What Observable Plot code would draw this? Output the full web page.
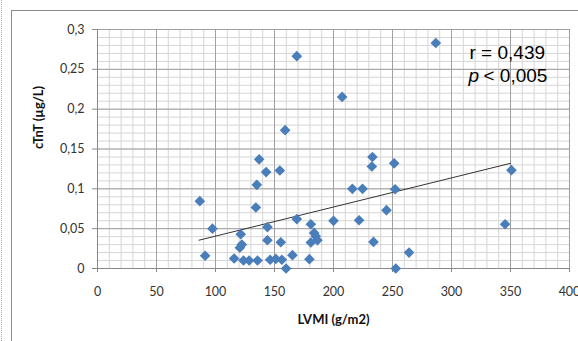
<!DOCTYPE html>
<html><head><meta charset="utf-8">
<script src="https://cdn.jsdelivr.net/npm/d3@7"></script>
<script src="https://cdn.jsdelivr.net/npm/@observablehq/plot@0.6"></script>
<style>
html,body{margin:0;padding:0;background:#fff;}
#wrap{position:relative;width:578px;height:341px;overflow:hidden;background:#fff;}
#chart{position:absolute;left:0;top:0;}
#frame{position:absolute;left:11px;top:10px;width:620px;height:400px;border:1.5px solid #8c8c8c;box-sizing:border-box;pointer-events:none;}
#dots{position:absolute;left:1px;top:0;height:341px;border-left:1px dotted #aaa;}
</style></head><body>
<div id="wrap"><div id="chart"></div><div id="frame"></div><div id="dots"></div></div>
<script>
// LVMI (g/m2) and cTnT (µg/L) per patient
const lvmi = [86.7, 97.4, 91.2, 121.4, 122.3, 120.6, 115.8, 123.7, 128.5, 135.6,
  134.2, 135, 142.9, 137, 154.5, 144, 144, 146.3, 151.1, 156.2,
  155.3, 159.8, 165.2, 168.9, 180.8, 183.6, 185, 186.4, 180.8, 179.6,
  200, 216, 224.6, 221.7, 233.9, 232.5, 233, 159, 168.9, 207.3,
  286.7, 251.4, 252.2, 244.9, 264, 252.8, 345.4, 350.8];
const ctnt = [0.0845, 0.050, 0.016, 0.043, 0.030, 0.026, 0.0125, 0.010, 0.010, 0.010,
  0.0766, 0.105, 0.121, 0.137, 0.123, 0.052, 0.0355, 0.011, 0.012, 0.011,
  0.033, 0.0, 0.0167, 0.062, 0.0556, 0.0447, 0.0405, 0.0355, 0.0326, 0.0117,
  0.0598, 0.100, 0.100, 0.0606, 0.0334, 0.128, 0.140, 0.1736, 0.2665, 0.2154,
  0.283, 0.132, 0.0995, 0.0732, 0.020, 0.0, 0.0556, 0.1234];
// linear trend line end points
const trendX = [86, 350];
const trendY = [0.0355, 0.132];
// ticks
const xTicks = [0, 50, 100, 150, 200, 250, 300, 350, 400];
const yTicks = [0, 0.05, 0.1, 0.15, 0.2, 0.25, 0.3];
const xMinor = d3.range(0, 41).map(i => i * 10);
const yMinor = d3.range(0, 31).map(i => i / 100);
const xLabel = "LVMI (g/m2)";
const yLabel = "cTnT (µg/L)";
const statR = "r = 0,439";
const statP = "p";
const statPRest = "< 0,005";

const fmt = d => String(d).replace(".", ",");
const points = lvmi.map((x, i) => ({x, y: ctnt[i]}));
const trend = trendX.map((x, i) => ({x, y: trendY[i]}));

const chart = Plot.plot({
  width: 578, height: 341,
  marginLeft: 97, marginRight: 9, marginTop: 29, marginBottom: 73,
  x: {domain: [0, 400]},
  y: {domain: [0, 0.3]},
  style: {fontFamily: "Lato, sans-serif", fontSize: "12.5px", color: "#333", background: "transparent"},
  marks: [
    Plot.gridX(xMinor, {stroke: "#d6d6d6", strokeOpacity: 1, strokeWidth: 1}),
    Plot.gridY(yMinor, {stroke: "#d6d6d6", strokeOpacity: 1, strokeWidth: 1}),
    Plot.gridX(xTicks, {stroke: "#a0a0a0", strokeOpacity: 1, strokeWidth: 1}),
    Plot.gridY(yTicks, {stroke: "#a0a0a0", strokeOpacity: 1, strokeWidth: 1}),
    Plot.ruleY([0], {stroke: "#888"}),
    Plot.ruleX([0], {stroke: "#888"}),
    Plot.axisX(xTicks, {tickFormat: fmt, tickSize: 4, tickPadding: 15, stroke: "#888", label: null, fill: "#333"}),
    Plot.axisY(yTicks, {tickFormat: fmt, tickSize: 5, tickPadding: 8, stroke: "#888", label: null, fill: "#333"}),
    Plot.line(trend, {x: "x", y: "y", stroke: "#333", strokeWidth: 1}),
    Plot.dot(points, {x: "x", y: "y", symbol: "diamond2", r: 4.8, fill: "#4a7ebb", stroke: "none"}),
    Plot.text([xLabel], {frameAnchor: "bottom", dy: 55, fontWeight: "bold", fontSize: 13, fill: "#111"}),
    Plot.text([yLabel], {frameAnchor: "left", dx: -59, rotate: -90, fontWeight: "bold", fontSize: 13, fill: "#111"}),
    Plot.text([statR], {frameAnchor: "top-right", dx: -100, dy: 16, textAnchor: "start", fontFamily: "Liberation Sans, Arial, sans-serif", fontSize: 19, fill: "#000"}),
    Plot.text([statP], {frameAnchor: "top-right", dx: -101, dy: 39, textAnchor: "start", fontFamily: "Liberation Sans, Arial, sans-serif", fontStyle: "italic", fontSize: 19, fill: "#000"}),
    Plot.text([statPRest], {frameAnchor: "top-right", dx: -86, dy: 39, textAnchor: "start", fontFamily: "Liberation Sans, Arial, sans-serif", fontSize: 19, fill: "#000"})
  ]
});
document.getElementById("chart").appendChild(chart);
</script>
</body></html>
